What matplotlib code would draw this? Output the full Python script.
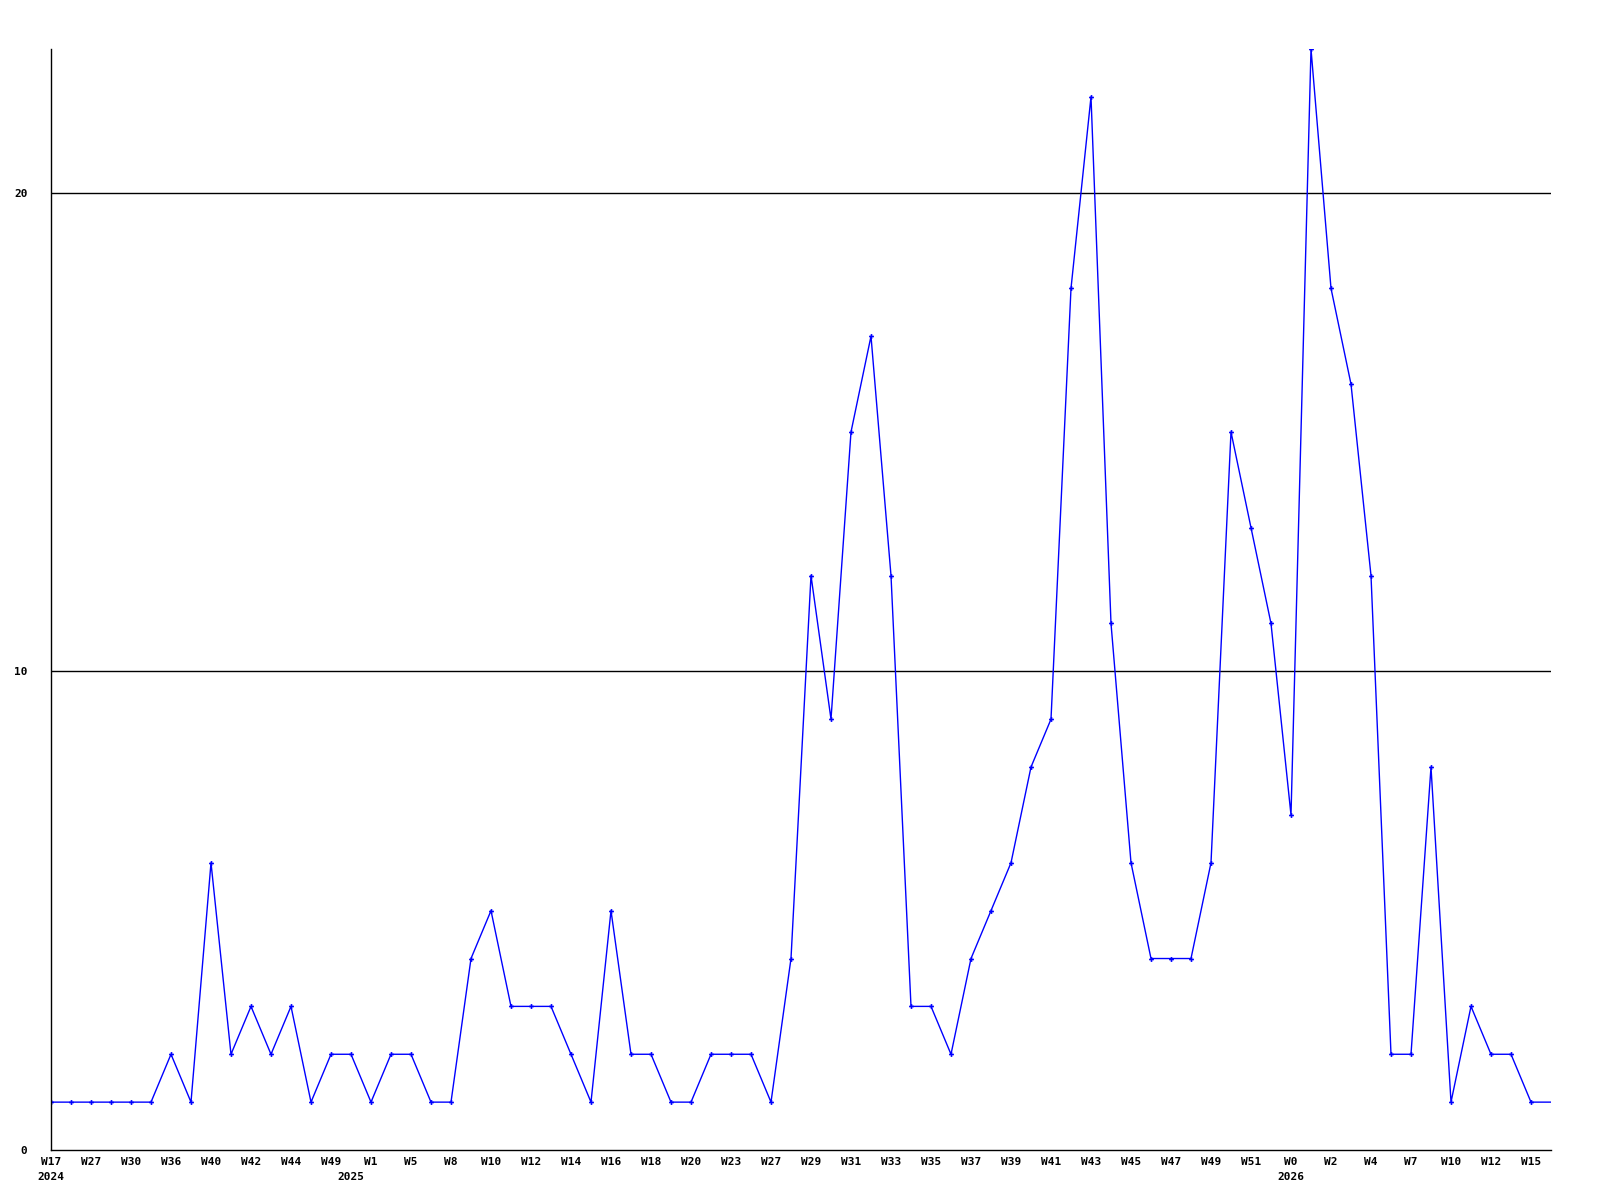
import matplotlib
matplotlib.use("Agg")
import matplotlib.pyplot as plt

# weekly counts, one per week (last point is the current, unfinished week)
values = [1, 1, 1, 1, 1, 1, 2, 1, 6, 2, 3, 2, 3, 1, 2, 2, 1, 2, 2, 1,
          1, 4, 5, 3, 3, 3, 2, 1, 5, 2, 2, 1, 1, 2, 2, 2, 1, 4, 12, 9,
          15, 17, 12, 3, 3, 2, 4, 5, 6, 8, 9, 18, 22, 11, 6, 4, 4, 4, 6, 15,
          13, 11, 7, 23, 18, 16, 12, 2, 2, 8, 1, 3, 2, 2, 1, 1]

# labels on every second week
week_labels = ["W17", "W27", "W30", "W36", "W40", "W42", "W44", "W49", "W1", "W5",
               "W8", "W10", "W12", "W14", "W16", "W18", "W20", "W23", "W27", "W29",
               "W31", "W33", "W35", "W37", "W39", "W41", "W43", "W45", "W47", "W49",
               "W51", "W0", "W2", "W4", "W7", "W10", "W12", "W15"]
years = ["2024", "2025", "2026"]
year_idx = [0, 15, 62]

y_ticks = [0, 10, 20]

font = {"family": "DejaVu Sans Mono", "weight": "bold", "size": 8}

fig = plt.figure(figsize=(16, 12), dpi=100)
ax = fig.add_axes([51 / 1600, 50 / 1200, 1500 / 1600, 1101 / 1200])

x = list(range(len(values)))
ax.plot(x, values, color="#0000ff", linewidth=1)
ax.plot(x[:-1], values[:-1], linestyle="none", marker="P", markersize=3.5,
        color="#0000ff", markeredgewidth=0)

for y in y_ticks[1:]:
    ax.axhline(y, color="black", linewidth=1, zorder=0)

ax.set_xlim(0, len(values) - 1)
ax.set_ylim(0, max(values))

ax.set_yticks(y_ticks)
ax.set_yticklabels([str(v) for v in y_ticks], fontdict=font)
ax.tick_params(axis="y", length=0, pad=17)

ax.set_xticks(x[0:len(week_labels) * 2:2])
ax.set_xticklabels(week_labels, fontdict=font)
ax.tick_params(axis="x", length=0, pad=5)

# year names under the week labels
for yr, i in zip(years, year_idx):
    ax.annotate(yr, xy=(i, 0), xycoords=("data", "axes fraction"),
                xytext=(0, -27), textcoords="offset pixels",
                ha="center", va="center", annotation_clip=False, **font)

for s in ["top", "right"]:
    ax.spines[s].set_visible(False)
for s in ["left", "bottom"]:
    ax.spines[s].set_color("black")
    ax.spines[s].set_linewidth(1)

plt.savefig("out.png", dpi=100)
